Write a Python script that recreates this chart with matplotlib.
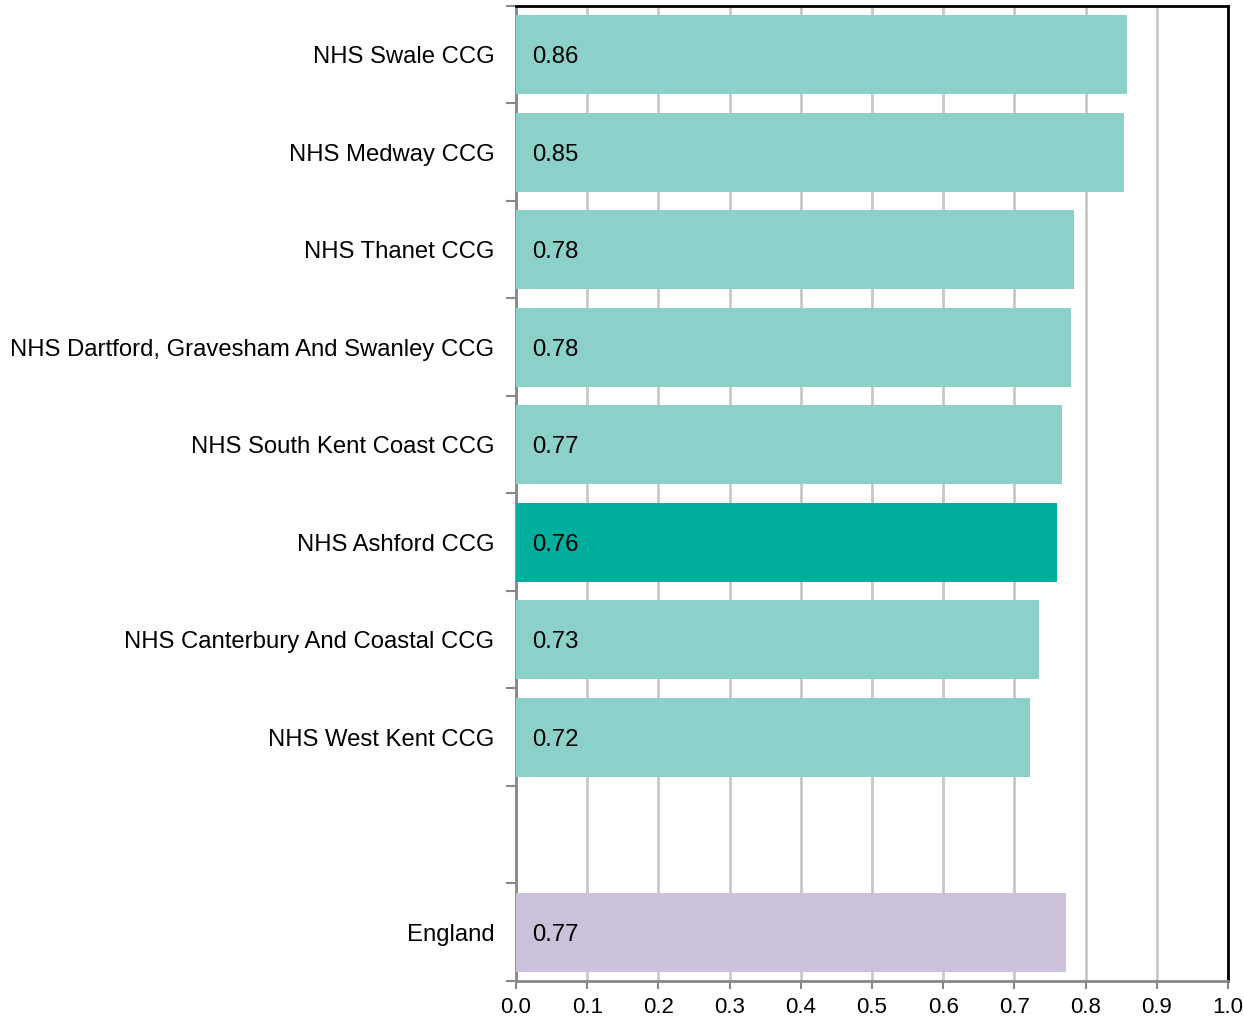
import numpy as np
import matplotlib
matplotlib.use("Agg")
import matplotlib.pyplot as plt

plt.rcParams['font.family'] = ['Liberation Sans', 'DejaVu Sans']

labels = ["NHS Swale CCG", "NHS Medway CCG", "NHS Thanet CCG",
          "NHS Dartford, Gravesham And Swanley CCG", "NHS South Kent Coast CCG",
          "NHS Ashford CCG", "NHS Canterbury And Coastal CCG", "NHS West Kent CCG",
          "", "England"]
values = [0.858, 0.854, 0.784, 0.779, 0.767, 0.760, 0.734, 0.722, np.nan, 0.772]
shown = ["0.86", "0.85", "0.78", "0.78", "0.77", "0.76", "0.73", "0.72", "", "0.77"]

light = "#8bd1ca"
colors = [light] * 10
colors[5] = "#00ae9e"
colors[9] = "#cbc1db"

fig = plt.figure(figsize=(12.44, 10.17), dpi=100)
ax = fig.add_axes([516/1244, 1 - 981/1017, 712/1244, 975/1017])

y = np.arange(len(labels))
ax.barh(y, np.nan_to_num(values), height=0.81, color=colors, zorder=3)

for i, txt in enumerate(shown):
    if txt:
        ax.annotate(txt, (0, y[i]), xytext=(11.5, 0), textcoords="offset points",
                    va="center_baseline", ha="left", fontsize=17.2, color="black", zorder=4)

ax.set_xlim(0, 1.0)
ax.set_ylim(len(labels) - 0.5, -0.5)
ax.set_xticks(np.arange(0, 1.01, 0.1))
ax.set_xticklabels([f"{v:.1f}" for v in np.arange(0, 1.01, 0.1)], fontsize=16)

ax.set_yticks(y)
ax.set_yticklabels(labels, fontsize=17.2)
ax.tick_params(axis="y", length=0, pad=15.5)
ax.set_yticks(np.arange(-0.5, len(labels)), minor=True)
ax.tick_params(axis="y", which="minor", length=7, width=1.5, color="#888888")
ax.tick_params(axis="x", length=6, width=1.5, color="#888888", pad=5.5)

ax.grid(axis="x", color="#c8c8c8", linewidth=2, zorder=0)
ax.set_axisbelow(True)

for s in ["left", "bottom"]:
    ax.spines[s].set_color("#888888")
    ax.spines[s].set_linewidth(2)
for s in ["top", "right"]:
    ax.spines[s].set_color("black")
    ax.spines[s].set_linewidth(2)

plt.savefig("out.png", dpi=100)
